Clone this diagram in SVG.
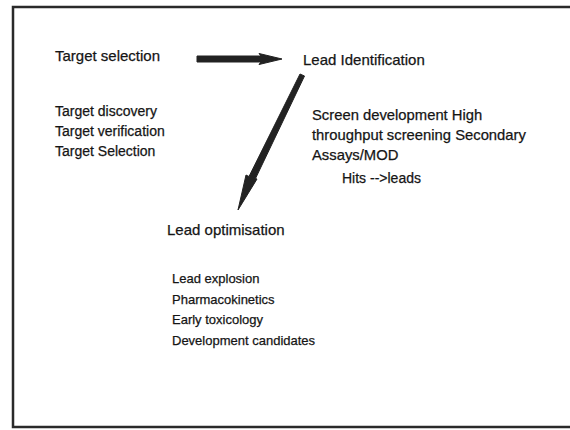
<svg xmlns="http://www.w3.org/2000/svg" width="570" height="430" viewBox="0 0 570 430">
<style>
text{font-family:"Liberation Sans",Arial,sans-serif;fill:#151515;stroke:#151515;stroke-width:0.25}
.h{font-size:15px}
.m{font-size:14px}
.w{font-size:14.8px}
.s{font-size:13px}
.arr{fill:#222;stroke:#222;stroke-linejoin:round}
</style>
<rect x="0" y="0" width="570" height="430" fill="#ffffff"/>
<rect id="frame" x="13" y="7" width="570" height="420" fill="none" stroke="#2a2a2a" stroke-width="2.5"/>
<g id="target-selection">
<text class="h" x="55" y="61">Target selection</text>
<text class="m" x="55" y="116">Target discovery</text>
<text class="m" x="55" y="136">Target verification</text>
<text class="m" x="55" y="156">Target Selection</text>
</g>
<g id="lead-identification">
<text class="h" x="303" y="65">Lead Identification</text>
<text class="w" x="312" y="120">Screen development High</text>
<text class="w" x="312" y="140">throughput screening Secondary</text>
<text class="w" x="312" y="160">Assays/MOD</text>
<text class="m" x="342" y="183">Hits --&gt;leads</text>
</g>
<g id="lead-optimisation">
<text class="h" x="167" y="235">Lead optimisation</text>
<text class="s" x="172" y="283">Lead explosion</text>
<text class="s" x="172" y="303.5">Pharmacokinetics</text>
<text class="s" x="172" y="324">Early toxicology</text>
<text class="s" x="172" y="345">Development candidates</text>
</g>
<g id="connectors">
<path class="arr" stroke-width="1" d="M197,56 L261,56 L259,53.5 L282,59 L259,64.5 L261,62 L197,62 Z"/>
<path class="arr" stroke-width="1" d="M300,74 L304.5,76 L255.5,178.5 L257,179 L238,210 L246,175 L249,176.5 Z"/>
</g>
</svg>
